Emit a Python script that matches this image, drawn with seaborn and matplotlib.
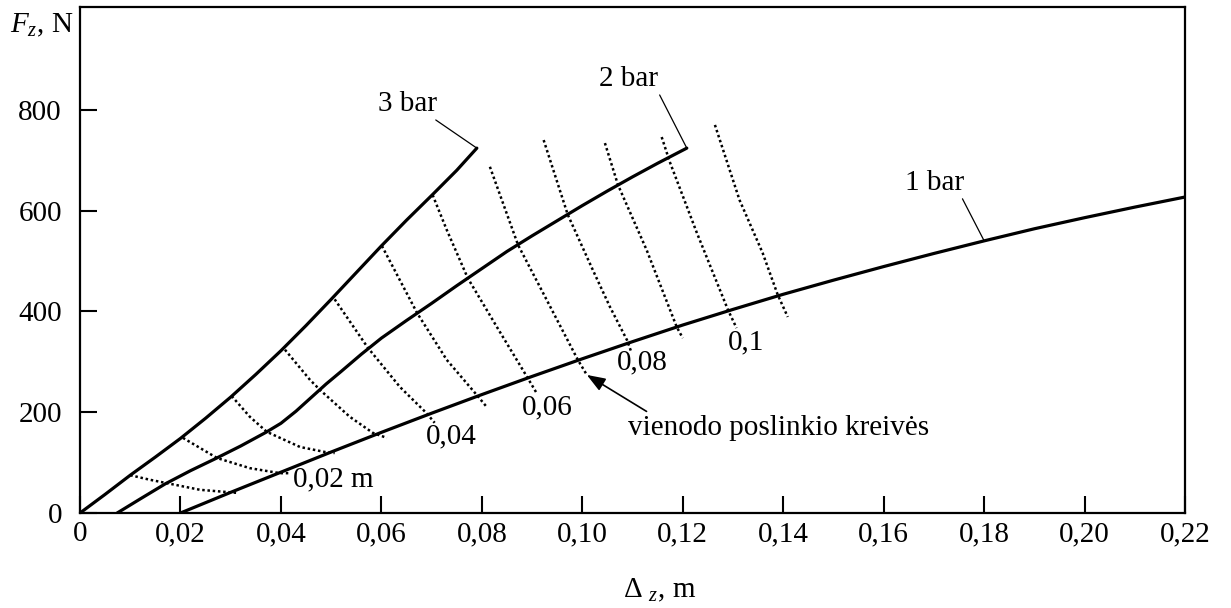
import matplotlib
matplotlib.use("Agg")
import matplotlib.pyplot as plt
import pandas as pd
import seaborn as sns

# Tyre load F_z (N) versus deflection Δz (m) for three inflation pressures
dz_1bar = [0.02, 0.03, 0.04, 0.05, 0.06, 0.07, 0.08, 0.09, 0.10, 0.11, 0.12,
           0.13, 0.14, 0.15, 0.16, 0.17, 0.18, 0.19, 0.20, 0.21, 0.22]
fz_1bar = [0, 41, 81, 121, 160, 198, 235, 271, 306, 340, 373,
           404, 434, 462, 489, 515, 540, 564, 586, 607, 627]

dz_2bar = [0.0074, 0.012, 0.017, 0.022, 0.027, 0.032, 0.037, 0.040, 0.043,
           0.046, 0.049, 0.052, 0.056, 0.060, 0.065, 0.070, 0.075, 0.080,
           0.085, 0.090, 0.095, 0.100, 0.105, 0.110, 0.115, 0.1208]
fz_2bar = [0, 28, 58, 84, 108, 133, 160, 178, 202,
           229, 256, 281, 315, 347, 382, 416, 451, 485,
           519, 550, 580, 610, 639, 667, 694, 724]

dz_3bar = [0.0, 0.005, 0.010, 0.015, 0.020, 0.025, 0.030, 0.035, 0.040,
           0.045, 0.050, 0.055, 0.060, 0.065, 0.070, 0.075, 0.079]
fz_3bar = [0, 37, 75, 111, 148, 188, 230, 275, 322,
           372, 424, 477, 530, 581, 630, 680, 724]

pressure_names = ["1 bar", "2 bar", "3 bar"]

# Equal-displacement curves (dotted), ordered from the lowest one upwards
iso_dz = [
    [0.0100, 0.0139, 0.0169, 0.0239, 0.0312],
    [0.0205, 0.0273, 0.0338, 0.0398, 0.0418],
    [0.0302, 0.0338, 0.0372, 0.0438, 0.0488, 0.0507],
    [0.0408, 0.0458, 0.0478, 0.0537, 0.0583, 0.0611],
    [0.0507, 0.0573, 0.0637, 0.0690, 0.0706],
    [0.0601, 0.0671, 0.0730, 0.0790, 0.0810],
    [0.0702, 0.0730, 0.0772, 0.0830, 0.0890, 0.0909],
    [0.0816, 0.0842, 0.0872, 0.0929, 0.0991, 0.1009],
    [0.0923, 0.0971, 0.1021, 0.1055, 0.1089, 0.1098],
    [0.1045, 0.1071, 0.1128, 0.1188, 0.1200],
    [0.1158, 0.1174, 0.1228, 0.1290, 0.1307],
    [0.1264, 0.1313, 0.1359, 0.1389, 0.1409],
]
iso_fz = [
    [75, 66, 60, 46, 40],
    [149, 109, 89, 79, 79],
    [232, 191, 161, 131, 121, 119],
    [324, 264, 244, 191, 159, 149],
    [424, 328, 250, 198, 179],
    [530, 397, 304, 234, 210],
    [631, 562, 466, 369, 270, 238],
    [687, 615, 532, 423, 304, 274],
    [740, 592, 482, 409, 343, 318],
    [734, 651, 522, 369, 347],
    [746, 697, 556, 403, 367],
    [770, 621, 516, 433, 389],
]
iso_labels = {2: "0,02 m", 4: "0,04", 6: "0,06", 8: "0,08", 10: "0,1"}
iso_label_offsets = {2: (-1, -19), 4: (12, -10), 6: (8, -10), 8: (8, -7), 10: (7, -10)}

x_ticks = [0, 0.02, 0.04, 0.06, 0.08, 0.10, 0.12, 0.14, 0.16, 0.18, 0.20, 0.22]
x_ticklabels = ["0", "0,02", "0,04", "0,06", "0,08", "0,10", "0,12", "0,14",
                "0,16", "0,18", "0,20", "0,22"]
y_ticks = [0, 200, 400, 600, 800]
y_ticklabels = ["0", "200", "400", "600", "800"]

sns.set_style("ticks")
plt.rcParams["font.family"] = ["Liberation Serif", "DejaVu Serif"]
plt.rcParams["mathtext.fontset"] = "custom"
plt.rcParams["mathtext.rm"] = "Liberation Serif"
plt.rcParams["mathtext.it"] = "Liberation Serif:italic"
plt.rcParams["text.color"] = "black"
plt.rcParams["xtick.color"] = "black"
plt.rcParams["ytick.color"] = "black"
plt.rcParams["xtick.labelcolor"] = "black"
plt.rcParams["ytick.labelcolor"] = "black"
FS = 21

pressure_df = pd.concat([
    pd.DataFrame({"dz": dz_1bar, "fz": fz_1bar, "p": pressure_names[0]}),
    pd.DataFrame({"dz": dz_2bar, "fz": fz_2bar, "p": pressure_names[1]}),
    pd.DataFrame({"dz": dz_3bar, "fz": fz_3bar, "p": pressure_names[2]}),
], ignore_index=True)

iso_df = pd.concat([
    pd.DataFrame({"dz": xs, "fz": ys, "k": i}) for i, (xs, ys) in enumerate(zip(iso_dz, iso_fz))
], ignore_index=True)

fig = plt.figure(figsize=(12.31, 6.08), dpi=100)
ax = fig.add_axes([0.065, 0.15625, 0.8977, 0.8322])

sns.lineplot(data=iso_df, x="dz", y="fz", units="k", estimator=None, sort=False,
             color="black", lw=1.8, linestyle=(0, (1, 1.1)), ax=ax)
sns.lineplot(data=pressure_df, x="dz", y="fz", units="p", estimator=None, sort=False,
             color="black", lw=2.3, ax=ax)

ax.set_xlim(0, 0.22)
ax.set_ylim(0, 1004)
ax.set_xticks(x_ticks)
ax.set_xticklabels(x_ticklabels, fontsize=FS, color="black")
ax.set_yticks(y_ticks)
ax.set_yticklabels(y_ticklabels, fontsize=FS, color="black")
ax.tick_params(direction="in", length=12, width=1.5, color="black")
ax.tick_params(axis="x", pad=6)
ax.tick_params(axis="y", pad=13)
for side in ["left", "right", "top", "bottom"]:
    ax.spines[side].set_visible(True)
    ax.spines[side].set_linewidth(1.6)
    ax.spines[side].set_color("black")
ax.set_xlabel("")
ax.set_ylabel("")

# Pressure labels with leader lines to their curves
leader = dict(arrowstyle="-", lw=0.9, color="black", shrinkA=0, shrinkB=0)
ax.annotate(pressure_names[2], xy=(dz_3bar[-1], fz_3bar[-1]), xytext=(-50, 32),
            textcoords="offset points", ha="center", va="center", fontsize=FS,
            arrowprops=dict(leader, relpos=(0.9, 0.0)))
ax.annotate(pressure_names[1], xy=(dz_2bar[-1], fz_2bar[-1]), xytext=(-42, 50),
            textcoords="offset points", ha="center", va="center", fontsize=FS,
            arrowprops=dict(leader, relpos=(1.0, 0.0)))
ax.annotate(pressure_names[0], xy=(dz_1bar[16], fz_1bar[16]), xytext=(-36, 42),
            textcoords="offset points", ha="center", va="center", fontsize=FS,
            arrowprops=dict(leader, relpos=(0.95, 0.0)))

# Displacement values at the lower ends of the dotted curves
for k, text in iso_labels.items():
    ax.annotate(text, xy=(iso_dz[k][-1], iso_fz[k][-1]), xytext=iso_label_offsets[k],
                textcoords="offset points", ha="center", va="center", fontsize=FS)

ax.annotate("vienodo poslinkio kreivės", xy=(iso_dz[7][-1], iso_fz[7][-1]),
            xytext=(29.5, -38), textcoords="offset points", ha="left", va="center",
            fontsize=FS,
            arrowprops=dict(arrowstyle="-|>,head_length=0.8,head_width=0.3",
                            lw=1.2, color="black", shrinkA=0, shrinkB=0,
                            relpos=(0.08, 1.0), mutation_scale=14))

fig.text(10 / 1231, 1 - 25 / 608, r"$F_z$, N", ha="left", va="center", fontsize=FS)
fig.text(660 / 1231, 1 - 590 / 608, r"$\Delta\ {}_z$, m", ha="center", va="center",
         fontsize=FS)

fig.savefig("out.png", dpi=100)
